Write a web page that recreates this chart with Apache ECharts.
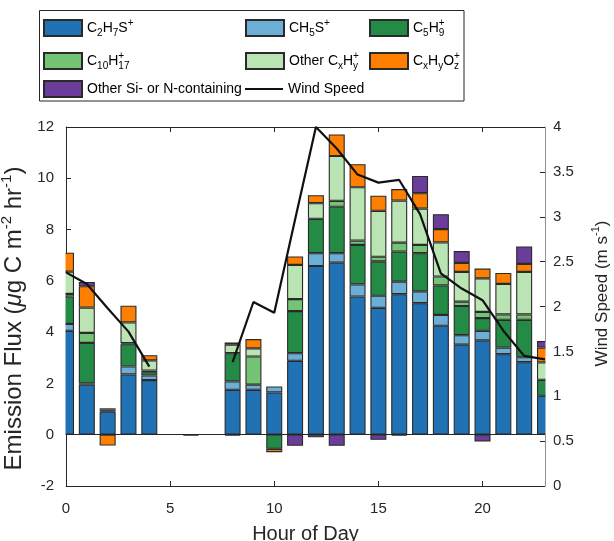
<!DOCTYPE html>
<html><head><meta charset="utf-8">
<script src="https://cdn.jsdelivr.net/npm/echarts@6/dist/echarts.min.js"></script>
<style>html,body{margin:0;padding:0;background:#fff}#c{width:614px;height:541px}</style>
</head><body><div id="c"></div>
<script>
// ---- data ----
const hours = [0,1,2,3,4,5,6,7,8,9,10,11,12,13,14,15,16,17,18,19,20,21,22,23];
const c2h7s  = [4.05,1.95,0.90,2.35,2.13,null,null,null,1.75,1.75,1.65,2.88,6.58,6.71,5.39,4.95,5.48,5.13,4.25,3.51,3.68,3.14,2.83,1.52];
const ch5s   = [0.27,0.05,null,0.31,0.18,null,null,null,0.33,0.20,0.23,0.30,0.50,0.37,0.47,0.47,0.49,0.46,0.42,0.37,0.37,0.26,0.19,null];
const c5h9   = [1.07,1.58,0.03,0.87,0.13,null,null,null,1.10,null,-0.55,1.64,1.34,1.81,1.54,1.34,1.17,1.49,1.15,1.14,0.50,1.08,1.46,0.62];
const c10h17 = [0.10,0.39,0.05,0.04,0.06,null,null,null,null,1.10,null,0.47,null,0.23,0.17,0.18,0.35,0.32,0.35,0.17,0.24,0.21,0.21,null];
const otherCH= [0.87,0.99,0.05,0.81,0.40,null,null,null,0.33,0.32,null,1.33,0.61,1.75,2.08,1.79,1.64,1.42,1.33,1.16,1.31,1.19,1.66,0.68];
const cxhyoz = [0.74,0.83,-0.42,0.65,0.20,null,null,null,0.09,0.36,-0.13,0.33,0.31,0.84,0.90,0.59,0.45,0.60,0.52,0.35,0.38,0.43,0.31,0.58];
const otherSiN=[null,0.17,null,null,null,null,-0.03,null,-0.03,null,null,-0.43,-0.10,-0.43,null,-0.20,-0.03,0.67,0.58,0.46,-0.26,null,0.68,0.25];
const wind   = [2.38,2.25,1.98,1.72,1.33,null,null,null,1.38,2.05,1.93,2.97,4.00,3.76,3.47,3.38,3.41,3.03,2.37,2.20,2.07,1.73,1.45,1.41];

const seriesNames = ['C2H7S+','CH5S+','C5H9+','C10H17+','Other CxHy+','CxHyOz+','Other Si- or N-containing'];
const seriesValues = [c2h7s, ch5s, c5h9, c10h17, otherCH, cxhyoz, otherSiN];
const seriesColors = ['#2171b5','#6baed6','#238b45','#74c476','#bae4b3','#ff7f00','#6a3d9a'];
const windName = 'Wind Speed';
const tickEvery = 5;

const labelRich = {
  'C2H7S+': '{m|C}{sub|2}{m|H}{sub|7}{m|S}{sup|+}',
  'CH5S+': '{m|CH}{sub|5}{m|S}{sup|+}',
  'C5H9+': '{m|C}{sub|5}{m|H}{supz|+}{sub|9}',
  'C10H17+': '{m|C}{sub|10}{m|H}{supz|+}{sub|17}',
  'Other CxHy+': '{m|Other C}{sub|x}{m|H}{supz|+}{sub|y}',
  'CxHyOz+': '{m|C}{sub|x}{m|H}{sub|y}{m|O}{supz|+}{sub|z}',
  'Other Si- or N-containing': '{m|Other Si- or N-containing}',
  'Wind Speed': '{m|Wind Speed}'
};

const FONT = '"Liberation Sans", Arial, Helvetica, sans-serif';
const TXT = '#262626';

const series = seriesNames.map((n, k) => ({
  name: n, type: 'bar', stack: 'flux', clip: true,
  barWidth: 16,
  itemStyle: { color: seriesColors[k], borderColor: '#2a2a2a', borderWidth: 1.1 },
  emphasis: { disabled: true },
  data: seriesValues[k].map(v => (v == null ? '-' : v)),
  z: 2
}));
series[0].markLine = {
  silent: true, symbol: 'none', label: { show: false },
  lineStyle: { color: '#262626', width: 1, type: 'solid' },
  data: [{ yAxis: 0 }]
};
series.push({
  name: windName, type: 'line', yAxisIndex: 1, symbol: 'none', showSymbol: false,
  connectNulls: false, clip: false,
  lineStyle: { color: '#111', width: 2.2 },
  itemStyle: { color: '#111' },
  emphasis: { disabled: true },
  data: wind.map(v => (v == null ? '-' : v)), z: 5
});

const legendRows = [
  ['C2H7S+', 43, 18], ['CH5S+', 245, 18], ['C5H9+', 369, 18],
  ['C10H17+', 43, 51], ['Other CxHy+', 245, 51], ['CxHyOz+', 369, 51],
  ['Other Si- or N-containing', 43, 79], ['Wind Speed', 245, 79]
];
const legends = legendRows.map(([n, l, t]) => ({
  data: [n], left: l, top: t, padding: 0, itemWidth: 38,
  itemHeight: n === windName ? 2.2 : 16, itemGap: 0,
  icon: 'rect',
  selectedMode: false,
  formatter: (name) => labelRich[name],
  textStyle: {
    fontFamily: FONT, color: '#000', fontSize: 14, lineHeight: 20,
    rich: {
      m: { fontFamily: FONT, fontSize: 14, lineHeight: 20, color: '#000' },
      sub: { fontFamily: FONT, fontSize: 10, lineHeight: 10, verticalAlign: 'bottom', color: '#000' },
      sup: { fontFamily: FONT, fontSize: 10, lineHeight: 10, verticalAlign: 'top', color: '#000' },
      supz: { fontFamily: FONT, fontSize: 10, lineHeight: 10, verticalAlign: 'top', width: 0, color: '#000' }
    }
  }
}));

const axisLineStyle = { color: TXT, width: 1 };
const everyFive = (i) => i % tickEvery === 0;
const option = {
  animation: false,
  backgroundColor: '#fff',
  textStyle: { fontFamily: FONT },
  graphic: [{
    type: 'rect', shape: { x: 39.5, y: 10.5, width: 424.5, height: 90.5 },
    style: { fill: '#fff', stroke: TXT, lineWidth: 1 }, z: -1
  }, {
    // mask the half bars that overflow the plot box on the left and right (as the reference clips them)
    type: 'rect', shape: { x: 56, y: 118, width: 9.5, height: 372 },
    style: { fill: '#fff' }, z: 50
  }, {
    type: 'rect', shape: { x: 545.5, y: 118, width: 8, height: 372 },
    style: { fill: '#fff' }, z: 50
  }],
  legend: legends,
  grid: { left: 66, right: 69, top: 127, bottom: 55, containLabel: false, outerBoundsMode: 'none' },
  xAxis: [{
    type: 'category', data: hours.map(String), boundaryGap: false, position: 'bottom',
    name: 'Hour of Day', nameLocation: 'middle', nameGap: 38,
    nameTextStyle: { fontFamily: FONT, fontSize: 20, color: TXT },
    axisLine: { show: true, onZero: false, lineStyle: axisLineStyle },
    axisTick: { show: true, inside: true, length: 5, interval: everyFive, lineStyle: axisLineStyle },
    axisLabel: { fontFamily: FONT, fontSize: 15, color: TXT, margin: 15, interval: everyFive },
    splitLine: { show: false }
  }, {
    type: 'category', data: hours.map(String), boundaryGap: false, position: 'top',
    axisLine: { show: true, onZero: false, lineStyle: axisLineStyle },
    axisTick: { show: true, inside: true, length: 5, interval: everyFive, lineStyle: axisLineStyle },
    axisLabel: { show: false }, splitLine: { show: false }
  }],
  yAxis: [{
    type: 'value', min: -2, max: 12, interval: 2, position: 'left',
    name: 'Emission Flux ({mu|μ}g C m{sup|-2} hr{sup|-1})',
    nameLocation: 'middle', nameRotate: 90, nameGap: 37, nameMoveOverlap: false,
    nameTextStyle: {
      fontFamily: FONT, fontSize: 24, color: TXT, lineHeight: 30, padding: [0, 24, 0, 0],
      rich: {
        mu: { fontFamily: FONT, fontSize: 24, fontStyle: 'italic', color: TXT, lineHeight: 30 },
        sup: { fontFamily: FONT, fontSize: 15, lineHeight: 15, verticalAlign: 'top', color: TXT }
      }
    },
    axisLine: { show: true, lineStyle: axisLineStyle },
    axisTick: { show: true, inside: true, length: 5, lineStyle: axisLineStyle },
    axisLabel: { fontFamily: FONT, fontSize: 15, color: TXT, margin: 12 },
    splitLine: { show: false }
  }, {
    type: 'value', min: 0, max: 4, interval: 0.5, position: 'right',
    name: 'Wind Speed (m s{sup|-1})',
    nameLocation: 'middle', nameRotate: 90, nameGap: 45, nameMoveOverlap: false,
    nameTextStyle: {
      fontFamily: FONT, fontSize: 17, color: TXT, lineHeight: 24, padding: [0, 0, 0, 26],
      rich: { sup: { fontFamily: FONT, fontSize: 11, lineHeight: 11, verticalAlign: 'top', color: TXT } }
    },
    axisLine: { show: true, lineStyle: axisLineStyle },
    axisTick: { show: true, inside: true, length: 5, lineStyle: axisLineStyle },
    axisLabel: { fontFamily: FONT, fontSize: 15, color: TXT, margin: 8 },
    splitLine: { show: false }
  }],
  series: series
};
const chart = echarts.init(document.getElementById('c'), null, { renderer: 'canvas' });
chart.setOption(option);
</script></body></html>
